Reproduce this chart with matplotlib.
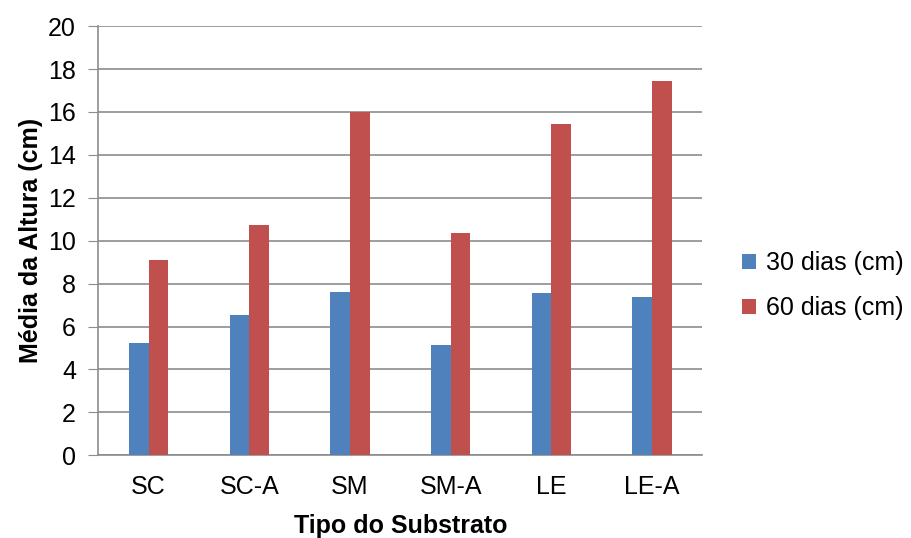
import matplotlib
matplotlib.use("Agg")
import matplotlib.pyplot as plt
import numpy as np

plt.rcParams['font.family'] = ['Liberation Sans', 'DejaVu Sans']

categories = ["SC", "SC-A", "SM", "SM-A", "LE", "LE-A"]
dias_30 = [5.22, 6.52, 7.61, 5.14, 7.55, 7.36]
dias_60 = [9.10, 10.74, 16.0, 10.36, 15.45, 17.46]
series_labels = ["30 dias (cm)", "60 dias (cm)"]
colors = ["#4F81BD", "#C0504D"]

fig = plt.figure(figsize=(9.11, 5.38), dpi=100)
ax = fig.add_axes([0.1079, 0.1537, 0.6632, 0.7978])

x = np.arange(len(categories))
w = 0.195
ax.bar(x - w / 2, dias_30, w, color=colors[0], label=series_labels[0], zorder=3)
ax.bar(x + w / 2, dias_60, w, color=colors[1], label=series_labels[1], zorder=3)

ax.set_xlim(-0.5, len(categories) - 0.5)
ax.set_ylim(0, 20)
ax.set_yticks(np.arange(0, 21, 2))
ax.set_xticks(x)
ax.set_xticklabels(categories)
ax.yaxis.grid(True, color="#8C8C8C", linewidth=1.2, zorder=0)
ax.set_axisbelow(True)

for s in ["top", "right"]:
    ax.spines[s].set_visible(False)
for s in ["left", "bottom"]:
    ax.spines[s].set_color("#8C8C8C")
    ax.spines[s].set_linewidth(1.2)
ax.tick_params(axis="y", length=7, color="#8C8C8C", labelsize=18, pad=9)
ax.tick_params(axis="x", length=0, labelsize=18, pad=14)

ax.set_ylabel("Média da Altura (cm)", fontsize=18, fontweight="bold", labelpad=4)
ax.set_xlabel("Tipo do Substrato", fontsize=18, fontweight="bold", labelpad=11)

leg = ax.legend(loc="center left", bbox_to_anchor=(1.028, 0.395), frameon=False,
                fontsize=18, handlelength=0.55, handleheight=0.55, handletextpad=0.4,
                labelspacing=0.85)

fig.savefig("out.png", dpi=100)
